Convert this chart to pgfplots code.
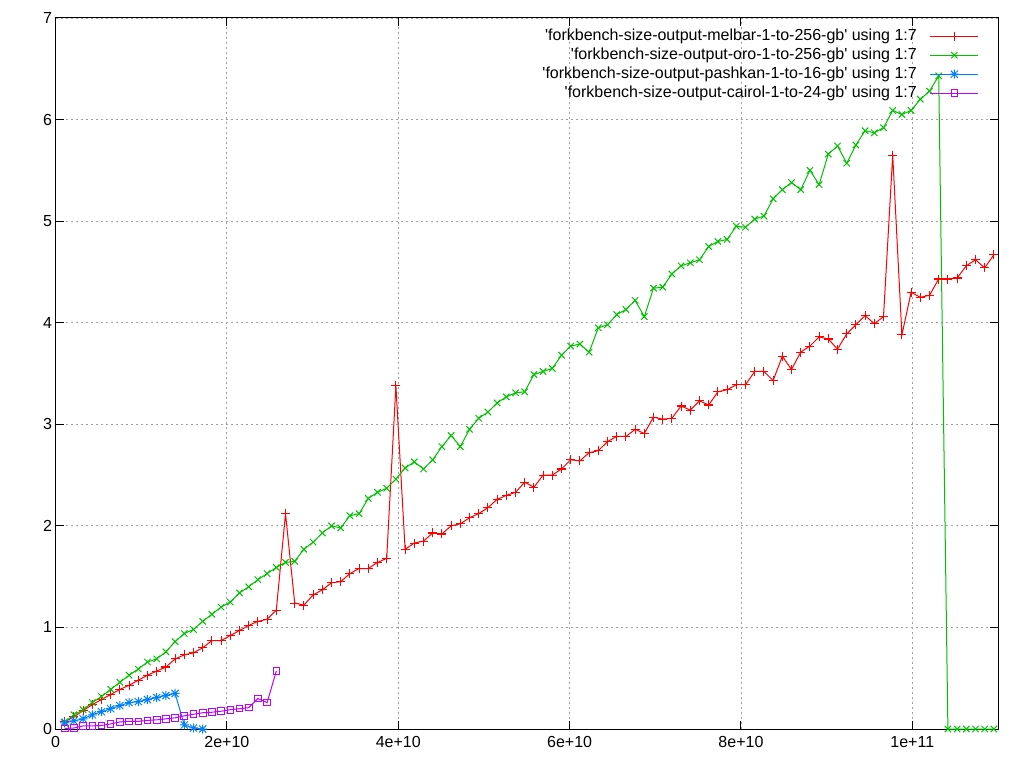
\documentclass[border=0pt]{standalone}
\usepackage{fontspec}
\setmainfont{Liberation Sans}
\usepackage{pgfplots}
\pgfplotsset{compat=1.18}
\usepackage{pgfplotstable}
\definecolor{gpred}{RGB}{255,0,0}
\definecolor{gpgreen}{RGB}{0,192,0}
\definecolor{gpblue}{RGB}{0,128,255}
\definecolor{gppurple}{RGB}{192,0,255}
\definecolor{gpgrid}{RGB}{160,160,160}

\pgfdeclareplotmark{gpast}{%
  \pgfpathmoveto{\pgfqpoint{-\pgfplotmarksize}{0pt}}\pgfpathlineto{\pgfqpoint{\pgfplotmarksize}{0pt}}%
  \pgfpathmoveto{\pgfqpoint{0pt}{-\pgfplotmarksize}}\pgfpathlineto{\pgfqpoint{0pt}{\pgfplotmarksize}}%
  \pgfpathmoveto{\pgfqpoint{-.8\pgfplotmarksize}{-.8\pgfplotmarksize}}\pgfpathlineto{\pgfqpoint{.8\pgfplotmarksize}{.8\pgfplotmarksize}}%
  \pgfpathmoveto{\pgfqpoint{-.8\pgfplotmarksize}{.8\pgfplotmarksize}}\pgfpathlineto{\pgfqpoint{.8\pgfplotmarksize}{-.8\pgfplotmarksize}}%
  \pgfusepathqstroke}

% melbar (r) and oro (g)
\pgfplotstableread{
x r g
1.074e9 0.07 0.07
2.147e9 0.12 0.14
3.221e9 0.18 0.19
4.295e9 0.24 0.26
5.369e9 0.29 0.32
6.442e9 0.34 0.39
7.516e9 0.39 0.46
8.590e9 0.43 0.53
9.664e9 0.48 0.59
10.737e9 0.53 0.66
11.811e9 0.57 0.69
12.885e9 0.61 0.76
13.959e9 0.69 0.86
15.032e9 0.73 0.94
16.106e9 0.75 0.98
17.180e9 0.80 1.06
18.254e9 0.87 1.13
19.327e9 0.87 1.20
20.401e9 0.92 1.25
21.475e9 0.97 1.34
22.549e9 1.02 1.40
23.622e9 1.06 1.47
24.696e9 1.08 1.53
25.770e9 1.17 1.59
26.844e9 2.12 1.64
27.917e9 1.24 1.65
28.991e9 1.22 1.77
30.065e9 1.32 1.84
31.139e9 1.37 1.93
32.212e9 1.44 2.00
33.286e9 1.45 1.98
34.360e9 1.53 2.10
35.433e9 1.58 2.12
36.507e9 1.58 2.27
37.581e9 1.64 2.33
38.655e9 1.68 2.37
39.728e9 3.38 2.46
40.802e9 1.77 2.57
41.876e9 1.83 2.63
42.950e9 1.85 2.56
44.023e9 1.93 2.65
45.097e9 1.92 2.78
46.171e9 2.00 2.89
47.245e9 2.02 2.78
48.318e9 2.08 2.95
49.392e9 2.12 3.06
50.466e9 2.18 3.12
51.540e9 2.26 3.21
52.613e9 2.30 3.27
53.687e9 2.33 3.31
54.761e9 2.43 3.32
55.835e9 2.38 3.49
56.908e9 2.50 3.52
57.982e9 2.50 3.55
59.056e9 2.56 3.68
60.130e9 2.65 3.77
61.203e9 2.64 3.79
62.277e9 2.72 3.71
63.351e9 2.74 3.95
64.425e9 2.83 3.98
65.498e9 2.88 4.08
66.572e9 2.88 4.13
67.646e9 2.95 4.22
68.719e9 2.91 4.06
69.793e9 3.07 4.34
70.867e9 3.05 4.35
71.941e9 3.06 4.48
73.014e9 3.18 4.56
74.088e9 3.14 4.59
75.162e9 3.23 4.62
76.236e9 3.19 4.75
77.309e9 3.32 4.80
78.383e9 3.34 4.82
79.457e9 3.39 4.95
80.531e9 3.39 4.94
81.604e9 3.52 5.02
82.678e9 3.52 5.05
83.752e9 3.43 5.22
84.826e9 3.67 5.31
85.899e9 3.54 5.38
86.973e9 3.71 5.31
88.047e9 3.77 5.50
89.121e9 3.86 5.36
90.194e9 3.84 5.66
91.268e9 3.74 5.74
92.342e9 3.89 5.57
93.415e9 3.98 5.75
94.489e9 4.07 5.89
95.563e9 3.99 5.87
96.637e9 4.06 5.92
97.710e9 5.65 6.09
98.784e9 3.88 6.05
99.858e9 4.30 6.09
100.932e9 4.25 6.20
102.005e9 4.27 6.28
103.079e9 4.43 6.43
104.153e9 4.43 0
105.227e9 4.44 0
106.300e9 4.56 0
107.374e9 4.62 0
108.448e9 4.54 0
109.522e9 4.67 0
}\tabmain

% pashkan
\pgfplotstableread{
x y
1.074e9 0.06
2.147e9 0.08
3.221e9 0.10
4.295e9 0.14
5.369e9 0.17
6.442e9 0.20
7.516e9 0.23
8.590e9 0.26
9.664e9 0.27
10.737e9 0.29
11.811e9 0.31
12.885e9 0.33
13.959e9 0.35
15.032e9 0.04
16.106e9 0.01
17.180e9 0.0
}\tabpash

% cairol
\pgfplotstableread{
x y
1.074e9 0.005
2.147e9 0.01
3.221e9 0.03
4.295e9 0.03
5.369e9 0.035
6.442e9 0.05
7.516e9 0.07
8.590e9 0.075
9.664e9 0.075
10.737e9 0.085
11.811e9 0.09
12.885e9 0.10
13.959e9 0.11
15.032e9 0.13
16.106e9 0.145
17.180e9 0.16
18.254e9 0.165
19.327e9 0.175
20.401e9 0.19
21.475e9 0.20
22.549e9 0.21
23.622e9 0.30
24.696e9 0.26
25.770e9 0.57
}\tabcair

\begin{document}
\begin{tikzpicture}
\path (0,0) rectangle (1024pt,768pt);
\begin{axis}[
  at={(55.5pt,39pt)}, anchor=south west,
  scale only axis, width=942.5pt, height=711pt,
  xmin=0, xmax=1.1e11, ymin=0, ymax=7,
  xtick={0,2e10,4e10,6e10,8e10,1e11},
  xticklabels={0,2e+10,4e+10,6e+10,8e+10,1e+11},
  scaled x ticks=false,
  ytick={0,1,2,3,4,5,6,7},
  xtick pos=both, ytick pos=both,
  xticklabel pos=lower, yticklabel pos=left,
  tick align=inside, major tick length=8pt,
  grid=major,
  major grid style={gpgrid, dash pattern=on 2pt off 3pt, line width=0.8pt},
  axis line style={black, line width=1pt},
  every tick/.style={black, line width=1pt},
  tick label style={font=\fontsize{16}{19}\selectfont},
  xticklabel style={yshift=-4pt},
  /pgf/number format/assume math mode=true,
  clip=false,
  legend plot pos=right,
  legend cell align=right,
  legend image code/.code={\draw[mark repeat=2,mark phase=2,#1] plot coordinates {(0pt,0pt)(24pt,0pt)(48pt,0pt)};},
  legend style={draw=none, fill=none, at={(1,1)}, anchor=north east,
    xshift=-19pt, yshift=-10pt, font=\fontsize{16}{19}\selectfont,
    inner sep=0pt, column sep=13pt, row sep=3pt,
    nodes={inner sep=0pt, text height=12pt, text depth=4pt}},
]
\addplot[gpred, line width=1pt, mark=+, mark size=4.5pt, mark options={gpred, solid, line width=1.1pt}] table[x=x,y=r] {\tabmain};
\addlegendentry{\textquotesingle forkbench-size-output-melbar-1-to-256-gb\textquotesingle\ using 1:7}
\addplot[gpgreen, line width=1pt, mark=x, mark size=4.5pt, mark options={gpgreen, solid, line width=1pt}] table[x=x,y=g] {\tabmain};
\addlegendentry{\textquotesingle forkbench-size-output-oro-1-to-256-gb\textquotesingle\ using 1:7}
\addplot[gpblue, line width=1pt, mark=gpast, mark size=4.5pt, mark options={gpblue, solid, line width=1pt}] table[x=x,y=y] {\tabpash};
\addlegendentry{\textquotesingle forkbench-size-output-pashkan-1-to-16-gb\textquotesingle\ using 1:7}
\addplot[gppurple, line width=1pt, mark=square, mark size=3.3pt, mark options={gppurple, solid, line width=1pt}] table[x=x,y=y] {\tabcair};
\addlegendentry{\textquotesingle forkbench-size-output-cairol-1-to-24-gb\textquotesingle\ using 1:7}
\end{axis}
\end{tikzpicture}
\end{document}
